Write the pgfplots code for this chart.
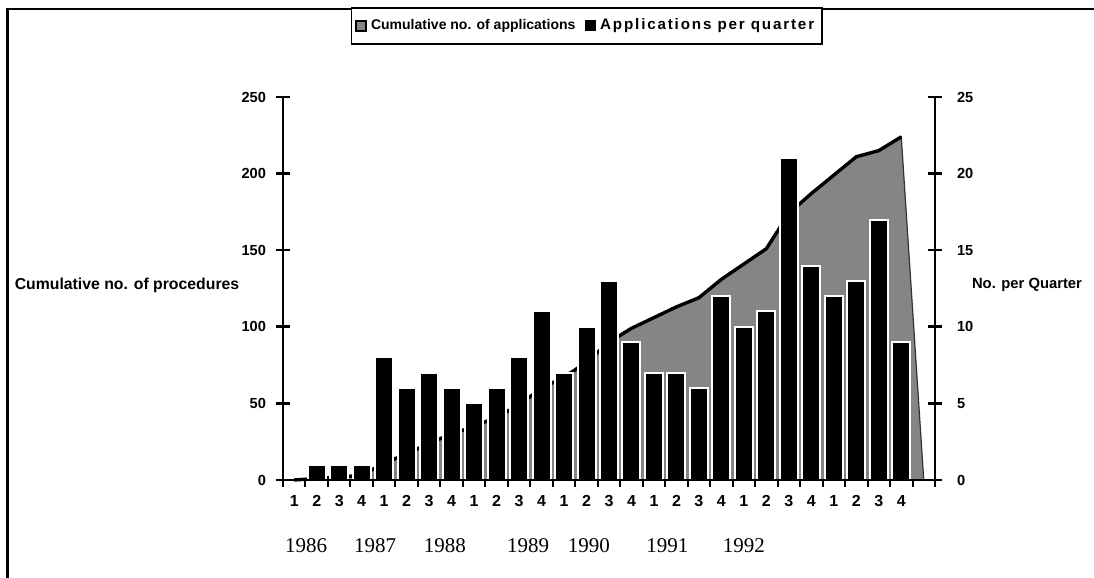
\documentclass[border=0pt]{standalone}
\usepackage{fontspec}
\setmainfont{Liberation Sans}
\newfontfamily\yearfont{Liberation Serif}
\usepackage{pgfplots}
\pgfplotsset{compat=1.18}

\pgfplotstableread{
i cum
0 0
1 1
2 2
3 3
4 11
5 17
6 24
7 30
8 35
9 41
10 49
11 60
12 67
13 77
14 90
15 99
16 106
17 113
18 119
19 131
20 141
21 151
22 174
23 187
24 199
25 211
26 215
27 224
28 0
}\cumtable

\pgfplotstableread{
i cum
0 0
1 1
2 2
3 3
4 11
5 17
6 24
7 30
8 35
9 41
10 49
11 60
12 67
13 77
14 90
15 99
16 106
17 113
18 119
19 131
20 141
21 151
22 174
23 187
24 199
25 211
26 215
27 224
}\cumline

\pgfplotstableread{
i n
1 1
2 1
3 1
4 8
5 6
6 7
7 6
8 5
9 6
10 8
11 11
12 7
13 10
14 13
15 9
16 7
17 7
18 6
19 12
20 10
21 11
22 21
23 14
24 12
25 13
26 17
27 9
}\bartable

\begin{document}
\begin{tikzpicture}
\path[use as bounding box] (0,0) rectangle (547pt,289pt);
\draw[line width=1.3pt] (3.75pt,0) -- (3.75pt,284.5pt) -- (547pt,284.5pt);

% left axis: cumulative area
\begin{axis}[
  at={(141.5pt,49pt)}, anchor=south west,
  scale only axis, width=326pt, height=191.5pt,
  xmin=-0.5, xmax=28.5, ymin=0, ymax=250,
  axis x line=none, axis y line=left,
  axis line style={-, line width=1.3pt},
  ytick={0,50,100,150,200,250},
  tick align=center, major tick length=7pt,
  every tick/.style={black, line width=1.3pt},
  yticklabel style={font=\fontsize{7.3}{8}\selectfont\bfseries, xshift=-1.5pt},
  /pgf/number format/assume math mode=true,
  clip=false,
]
\addplot[fill=black!48, draw=black!80, line width=0.6pt] table[x=i, y=cum] {\cumtable} \closedcycle;
\addplot[black, line width=1.7pt] table[x=i, y=cum] {\cumline};
\end{axis}

% right axis: bars
\begin{axis}[
  at={(141.5pt,49pt)}, anchor=south west,
  scale only axis, width=326pt, height=191.5pt,
  xmin=-0.5, xmax=28.5, ymin=0, ymax=25,
  axis x line=none, axis y line=right,
  axis line style={-, line width=1.3pt},
  ytick={0,5,10,15,20,25},
  tick align=center, major tick length=7pt,
  every tick/.style={black, line width=1.3pt},
  yticklabel style={font=\fontsize{7.3}{8}\selectfont\bfseries, xshift=4pt},
  /pgf/number format/assume math mode=true,
  legend style={at={(0.466,1.186)}, anchor=center, legend columns=2,
    draw=black, line width=0.9pt, font=\fontsize{7}{8}\selectfont\bfseries,
    inner xsep=2pt, inner ysep=3.5pt,
    /tikz/every even column/.append style={column sep=3pt}},
  legend cell align=left,
]
\addlegendimage{legend image code/.code={\filldraw[fill=black!48, draw=black, line width=0.8pt] (0pt,-2.5pt) rectangle (5pt,2.5pt);}}
\addlegendentry{Cumulative no. of applications}
\addlegendimage{legend image code/.code={\filldraw[fill=black, draw=black, line width=0.4pt] (0pt,-2.5pt) rectangle (5pt,2.5pt);}}
\addlegendentry{\addfontfeature{LetterSpace=12}\fontsize{7.6}{8}\selectfont Applications per quarter}
\addplot[ybar, bar width=9pt, fill=black, draw=white, line width=1pt, forget plot] table[x=i, y=n] {\bartable};
\end{axis}

% x axis with quarter labels
\begin{axis}[
  at={(141.5pt,49pt)}, anchor=south west,
  scale only axis, width=326pt, height=191.5pt,
  xmin=-0.5, xmax=28.5, ymin=0, ymax=25,
  axis x line=bottom, axis y line=none,
  axis line style={-, line width=1.3pt},
  xtick={0,...,27},
  xticklabels={1,2,3,4,1,2,3,4,1,2,3,4,1,2,3,4,1,2,3,4,1,2,3,4,1,2,3,4},
  major x tick style={draw=none},
  minor xtick={-0.5,0.5,...,28.5},
  minor tick length=3.5pt,
  tick align=outside,
  every minor tick/.style={black, line width=1pt},
  xticklabel style={font=\fontsize{8}{9}\selectfont\bfseries},
  clip=false,
]
\node[font=\yearfont\fontsize{10.5}{12}\selectfont] at (axis cs:0.53,0) [yshift=-33pt] {1986};
\node[font=\yearfont\fontsize{10.5}{12}\selectfont] at (axis cs:3.6,0) [yshift=-33pt] {1987};
\node[font=\yearfont\fontsize{10.5}{12}\selectfont] at (axis cs:6.7,0) [yshift=-33pt] {1988};
\node[font=\yearfont\fontsize{10.5}{12}\selectfont] at (axis cs:10.4,0) [yshift=-33pt] {1989};
\node[font=\yearfont\fontsize{10.5}{12}\selectfont] at (axis cs:13.1,0) [yshift=-33pt] {1990};
\node[font=\yearfont\fontsize{10.5}{12}\selectfont] at (axis cs:16.6,0) [yshift=-33pt] {1991};
\node[font=\yearfont\fontsize{10.5}{12}\selectfont] at (axis cs:20.0,0) [yshift=-33pt] {1992};
\end{axis}

\node[font=\fontsize{7.9}{8}\selectfont\bfseries] at (63.5pt,146.5pt) {Cumulative no. of procedures};
\node[font=\fontsize{7.4}{8}\selectfont\bfseries] at (513.5pt,146.5pt) {No. per Quarter};
\end{tikzpicture}
\end{document}
